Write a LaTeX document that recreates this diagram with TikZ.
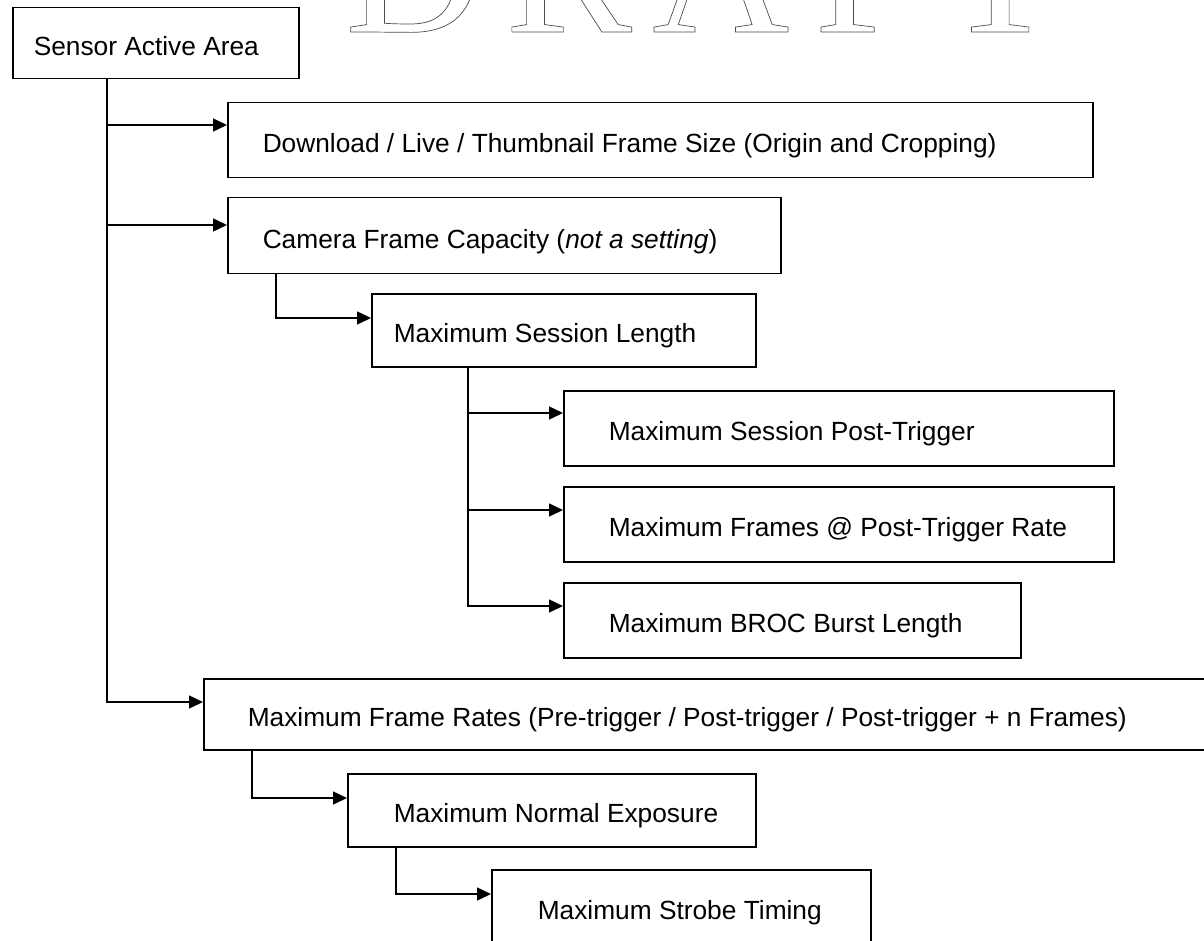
\documentclass[tikz,border=0pt]{standalone}
\usepackage{fontspec}
\setmainfont{Liberation Sans}
\newfontfamily\wmfont{Liberation Serif}
\usetikzlibrary{arrows.meta}

% fixed-width, left-aligned label inside a box
\newcommand{\boxtext}[2]{\makebox[#1][l]{#2}}
% outlined (stroked) letters
\newcommand{\outlined}[1]{\special{pdf:literal direct 1 Tr 0.7 w 0.3 G}#1\special{pdf:literal direct 0 Tr}}

\tikzset{
  blk/.style={draw, line width=1.5pt, anchor=north west, inner ysep=0pt,
    font=\fontsize{26.3}{31}\selectfont, text height=25pt, text depth=0pt},
  link/.style={line width=1.5pt, -{Triangle[length=14pt, width=13pt]}},
  wmark/.style={inner sep=0pt, anchor=base west,
    font=\wmfont\fontsize{190}{190}\selectfont},
}

\begin{document}
\begin{tikzpicture}[x=1pt, y=-1pt]
    \useasboundingbox[fill=white] (0,0) rectangle (1204,941);

    % Watermark
    \foreach \ch/\xx in {D/345, R/505, A/652, F/814, T/942} {
        \node[wmark] (wm\ch) at (\xx,32) {\outlined{\ch}};
    }

    % Boxes
    \node[blk, inner xsep=21pt, minimum height=71pt] (sensor) at (12,7)
        {\boxtext{244pt}{Sensor Active Area}};
    \node[blk, inner xsep=35pt, minimum height=75pt] (dl) at (227,102)
        {\boxtext{795pt}{Download / Live / Thumbnail Frame Size (Origin and Cropping)}};
    \node[blk, inner xsep=35pt, minimum height=76pt] (cam) at (227,197)
        {\boxtext{483pt}{Camera Frame Capacity (\textit{not a setting})}};
    \node[blk, inner xsep=22pt, minimum height=73pt] (sess) at (371,293)
        {\boxtext{340pt}{Maximum Session Length}};
    \node[blk, inner xsep=45pt, minimum height=75pt] (post) at (563,390)
        {\boxtext{460pt}{Maximum Session Post-Trigger}};
    \node[blk, inner xsep=45pt, minimum height=75pt] (frames) at (563,486)
        {\boxtext{460pt}{Maximum Frames @ Post-Trigger Rate}};
    \node[blk, inner xsep=45pt, minimum height=75pt] (broc) at (563,582)
        {\boxtext{367pt}{Maximum BROC Burst Length}};
    \node[blk, inner xsep=44pt, minimum height=71pt] (rates) at (203,678)
        {\boxtext{924pt}{Maximum Frame Rates (Pre-trigger / Post-trigger / Post-trigger + n Frames)}};
    \node[blk, inner xsep=46pt, minimum height=73pt] (norm) at (347,773)
        {\boxtext{316pt}{Maximum Normal Exposure}};
    \node[blk, inner xsep=46pt, minimum height=75pt] (strobe) at (491,869)
        {\boxtext{287pt}{Maximum Strobe Timing}};

    % Sensor trunk
    \draw[link] ([xshift=95pt]sensor.south west) |- ([yshift=-23pt]dl.north west);
    \draw[link] ([xshift=95pt]sensor.south west) |- ([yshift=-28pt]cam.north west);
    \draw[link] ([xshift=95pt]sensor.south west) |- ([yshift=-24pt]rates.north west);

    % Capacity branch
    \draw[link] ([xshift=49pt]cam.south west) |- ([yshift=-25pt]sess.north west);
    \draw[link] ([xshift=97pt]sess.south west) |- ([yshift=-23pt]post.north west);
    \draw[link] ([xshift=97pt]sess.south west) |- ([yshift=-24pt]frames.north west);
    \draw[link] ([xshift=97pt]sess.south west) |- ([yshift=-24pt]broc.north west);

    % Frame rate branch
    \draw[link] ([xshift=49pt]rates.south west) |- ([yshift=-25pt]norm.north west);
    \draw[link] ([xshift=49pt]norm.south west) |- ([yshift=-25pt]strobe.north west);
\end{tikzpicture}
\end{document}
